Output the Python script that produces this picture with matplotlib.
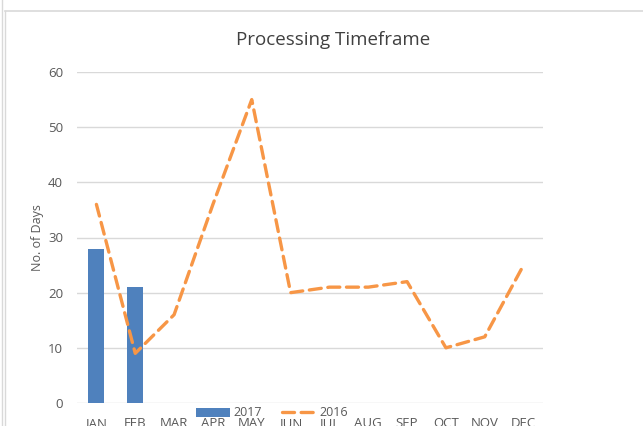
import matplotlib
matplotlib.use('Agg')
import matplotlib.pyplot as plt
from matplotlib.lines import Line2D

plt.rcParams['font.family'] = ['Open Sans', 'DejaVu Sans']

months = ['JAN', 'FEB', 'MAR', 'APR', 'MAY', 'JUN', 'JUL', 'AUG', 'SEP', 'OCT', 'NOV', 'DEC']
days_2017 = [28, 21]
days_2016 = [36, 9, 16, 36, 55, 20, 21, 21, 22, 10, 12, 25]
y_ticks = [0, 10, 20, 30, 40, 50, 60]

blue = '#4F81BD'
orange = '#F79646'
grey = '#595959'

fig = plt.figure(figsize=(6.43, 4.26), dpi=100)
ax = fig.add_axes([77 / 643, 23 / 426, 466 / 643, 331 / 426])

x = list(range(len(months)))
bars = ax.bar(x[:len(days_2017)], days_2017, width=0.41, color=blue, label='2017', zorder=2)
line, = ax.plot(x, days_2016, color=orange, lw=2.4, ls=(0, (3.6, 2.0)),
                dash_capstyle='round', label='2016', zorder=3)

ax.set_xlim(-0.5, len(months) - 0.5)
ax.set_ylim(0, 60)
ax.set_yticks(y_ticks)
ax.set_xticks(x)
ax.set_xticklabels(months)
ax.grid(axis='y', color='#d9d9d9', lw=1, zorder=0)
ax.set_axisbelow(True)
for s in ax.spines.values():
    s.set_visible(False)
ax.tick_params(axis='both', length=0, labelsize=9.5, colors=grey)
ax.tick_params(axis='y', pad=10)
ax.tick_params(axis='x', pad=10)
ax.set_ylabel('No. of Days', fontsize=9, color=grey, labelpad=3)

fig.text(333 / 643, 1 - 40 / 426, 'Processing Timeframe', ha='center', va='center',
         fontsize=13.5, color='#404040')

ax.legend([bars, line], ['2017', '2016'], loc='center', bbox_to_anchor=(272 / 643, 13 / 426),
          bbox_transform=fig.transFigure, ncol=2, frameon=False, fontsize=9,
          handlelength=2.7, handletextpad=0.3, columnspacing=1.6, labelcolor=grey)

# frame of the chart area
fig.add_artist(Line2D([5 / 643, 1], [1 - 11 / 426, 1 - 11 / 426], color='#d9d9d9', lw=1.2,
                      transform=fig.transFigure))
fig.add_artist(Line2D([2 / 643, 2 / 643], [0, 1], color='#d9d9d9', lw=1,
                      transform=fig.transFigure))
fig.add_artist(Line2D([5 / 643, 5 / 643], [0, 1 - 11 / 426], color='#d9d9d9', lw=1,
                      transform=fig.transFigure))

fig.savefig('out.png', dpi=100)
